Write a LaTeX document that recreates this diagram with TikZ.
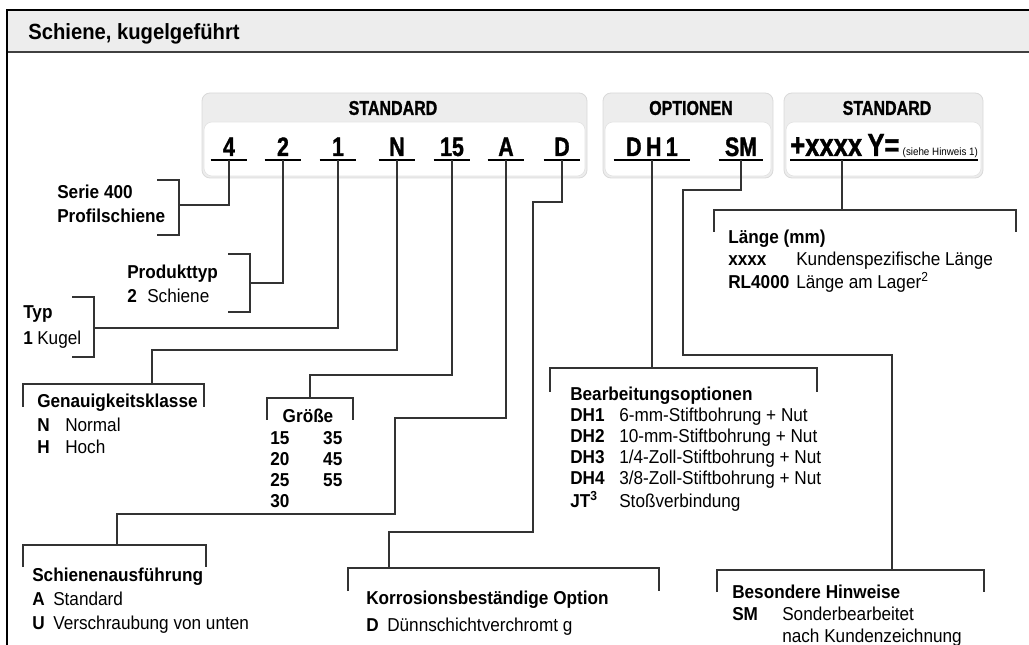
\documentclass[tikz,border=0pt]{standalone}
\usepackage{fontspec}
\setmainfont{Liberation Sans}[FakeStretch=0.92]
\newfontfamily\codefont{Liberation Sans}[FakeStretch=0.8,FakeBold=1.2]
\usetikzlibrary{positioning}

\begin{document}
\begin{tikzpicture}[
  x=0.75pt,y=-0.75pt,
  font=\fontsize{14}{18}\selectfont,
  conn/.style={draw=black!80,line width=1pt},
  brk/.style={conn},
  uline/.style={line width=1.6pt},
  code/.style={font=\fontsize{20}{24}\selectfont\codefont\bfseries,inner sep=0pt,
               text depth=3pt,minimum width=27pt,anchor=base},
  hdr/.style={font=\fontsize{15}{18}\selectfont\codefont\bfseries,inner sep=0pt},
  lbl/.style={inner sep=0pt,anchor=base west},
  boxo/.style={draw=gray!30,fill=gray!14,rounded corners=6pt,line width=0.6pt},
  boxi/.style={draw=gray!22,fill=white,rounded corners=6pt,line width=0.5pt},
]
  \useasboundingbox (0,0) rectangle (1029,645);

  % frame and title band
  \fill[gray!14] (7,10) rectangle (1029,52);
  \draw[black!75,line width=0.8pt] (7,52) -- (1029,52);
  \draw[line width=1.5pt] (7,645) -- (7,10) -- (1029,10);
  \node[lbl,font=\fontsize{16.5}{18}\selectfont\bfseries] (title) at (28,40) {Schiene, kugelgeführt};

  % code boxes
  \draw[boxo] (202,93) rectangle (587,178);
  \draw[boxi] (204,122) rectangle (585,176);
  \draw[boxo] (603,93) rectangle (773,178);
  \draw[boxi] (605,122) rectangle (771,176);
  \draw[boxo] (784,93) rectangle (983,178);
  \draw[boxi] (786,122) rectangle (981,176);
  \node[hdr] (hStdA) at (393,108) {STANDARD};
  \node[hdr] (hOpt)  at (691,108) {OPTIONEN};
  \node[hdr] (hStdB) at (887,108) {STANDARD};

  % code characters
  \node[code] (c4)  at (229,156) {4};
  \node[code] (c2)  at (283,156) {2};
  \node[code] (c1)  at (338,156) {1};
  \node[code] (cN)  at (397,156) {N};
  \node[code] (c15) at (452,156) {15};
  \node[code] (cA)  at (506,156) {A};
  \node[code] (cD)  at (562,156) {D};
  \node[code,minimum width=57pt] (cDH) at (652,156) {D\,H\,1};
  \node[code,minimum width=33pt] (cSM) at (741,156) {SM};
  \node[code,font=\fontsize{24}{26}\selectfont\codefont\bfseries,anchor=base west,minimum width=0pt]
    (cLen) at (790,156) {+xxxx\,Y=};
  \node[lbl,font=\fontsize{8}{9}\selectfont,xshift=2pt] (hinw) at (cLen.base east) {(siehe Hinweis 1)};
  \foreach \c in {c4,c2,c1,cN,c15,cA,cD,cDH,cSM}
    \draw[uline] (\c.south west) -- (\c.south east);
  \draw[uline] (cLen.south west) -- (cLen.south west -| hinw.east);

  % bracket tops
  \coordinate (serieT) at (179,205);
  \coordinate (prodT)  at (250,283);
  \coordinate (typT)   at (94,328);
  \coordinate (genT)   at (152,384);
  \coordinate (groT)   at (310,398);
  \coordinate (schT)   at (117,545);
  \coordinate (korT)   at (389,568);
  \coordinate (bearT)  at (652,368);
  \coordinate (besT)   at (892,570);
  \coordinate (lenT)   at (842,210);

  % brackets
  \draw[brk] (157,180) -| (179,235) -- (157,235);
  \draw[brk] (228,254) -| (250,312) -- (228,312);
  \draw[brk] (72,297) -| (94,357) -- (72,357);
  \draw[brk] (23,407) |- (204,384) -- (204,407);
  \draw[brk] (267,420) |- (353,398) -- (353,420);
  \draw[brk] (23,567) |- (206,545) -- (206,567);
  \draw[brk] (348,591) |- (659,568) -- (659,591);
  \draw[brk] (550,392) |- (817,368) -- (817,392);
  \draw[brk] (717,592) |- (984,570) -- (984,592);
  \draw[brk] (714,232) |- (1016,210) -- (1016,232);

  % connectors
  \draw[conn] (c4.south) |- (serieT);
  \draw[conn] (c2.south) |- (prodT);
  \draw[conn] (c1.south) |- (typT);
  \draw[conn] (cN.south) |- (152,350) -- (genT);
  \draw[conn] (c15.south) |- (310,375) -- (groT);
  \draw[conn] (cA.south) |- (395,418) |- (117,514) -- (schT);
  \draw[conn] (cD.south) |- (533,202) |- (389,532) -- (korT);
  \draw[conn] (cDH.south) -- (bearT);
  \draw[conn] (cSM.south) |- (683,190) |- (892,355) -- (besT);
  \draw[conn] (cLen.south west -| lenT) -- (lenT);

  % labels
  \node[lbl,font=\bfseries\fontsize{14}{18}\selectfont] (serie) at (57,199)
    {\begin{tabular}[t]{@{}l@{}}Serie 400\\Profilschiene\end{tabular}};
  \node[lbl] (prod) at (127,279)
    {\begin{tabular}[t]{@{}l@{}}\textbf{Produkttyp}\\\makebox[15pt][l]{\textbf{2}}Schiene\end{tabular}};
  \node[lbl,font=\fontsize{14}{19.5}\selectfont] (typ) at (23,319)
    {\begin{tabular}[t]{@{}l@{}}\textbf{Typ}\\\makebox[10.5pt][l]{\textbf{1}}Kugel\end{tabular}};
  \node[lbl,font=\fontsize{14}{17.25}\selectfont] (gen) at (37,408)
    {\begin{tabular}[t]{@{}l@{}}\textbf{Genauigkeitsklasse}\\\makebox[21pt][l]{\textbf{N}}Normal\\
     \makebox[21pt][l]{\textbf{H}}Hoch\end{tabular}};
  \node[lbl,anchor=base,font=\bfseries\fontsize{14}{18}\selectfont] (gro) at (308,422) {Größe};
  \node[lbl,font=\bfseries\fontsize{14}{15.75}\selectfont] (groList) at (270,445)
    {\begin{tabular}[t]{@{}l@{}}\makebox[39.75pt][l]{15}35\\\makebox[39.75pt][l]{20}45\\
     \makebox[39.75pt][l]{25}55\\30\end{tabular}};
  \node[lbl] (sch) at (32,581)
    {\begin{tabular}[t]{@{}l@{}}\textbf{Schienenausführung}\\\makebox[15.75pt][l]{\textbf{A}}Standard\\
     \makebox[15.75pt][l]{\textbf{U}}Verschraubung von unten\end{tabular}};
  \node[lbl,font=\fontsize{14}{20.25}\selectfont] (kor) at (366,604)
    {\begin{tabular}[t]{@{}l@{}}\textbf{Korrosionsbeständige Option}\\
     \makebox[15.75pt][l]{\textbf{D}}Dünnschichtverchromt g\end{tabular}};
  \node[lbl,font=\fontsize{14}{15.75}\selectfont] (bear) at (570,401)
    {\begin{tabular}[t]{@{}l@{}}\textbf{Bearbeitungsoptionen}\\
     \makebox[36.75pt][l]{\textbf{DH1}}6-mm-Stiftbohrung + Nut\\
     \makebox[36.75pt][l]{\textbf{DH2}}10-mm-Stiftbohrung + Nut\\
     \makebox[36.75pt][l]{\textbf{DH3}}1/4-Zoll-Stiftbohrung + Nut\\
     \makebox[36.75pt][l]{\textbf{DH4}}3/8-Zoll-Stiftbohrung + Nut\\
     \makebox[36.75pt][l]{\textbf{JT\textsuperscript{3}}}Stoßverbindung\end{tabular}};
  \node[lbl,font=\fontsize{14}{16.5}\selectfont] (len) at (728,244)
    {\begin{tabular}[t]{@{}l@{}}\textbf{Länge (mm)}\\
     \makebox[51pt][l]{\textbf{xxxx}}Kundenspezifische Länge\\
     \makebox[51pt][l]{\textbf{RL4000}}Länge am Lager\textsuperscript{2}\end{tabular}};
  \node[lbl,font=\fontsize{14}{16.5}\selectfont] (bes) at (732,598)
    {\begin{tabular}[t]{@{}l@{}}\textbf{Besondere Hinweise}\\
     \makebox[37.5pt][l]{\textbf{SM}}Sonderbearbeitet\\
     \makebox[37.5pt][l]{}nach Kundenzeichnung\end{tabular}};
\end{tikzpicture}
\end{document}
